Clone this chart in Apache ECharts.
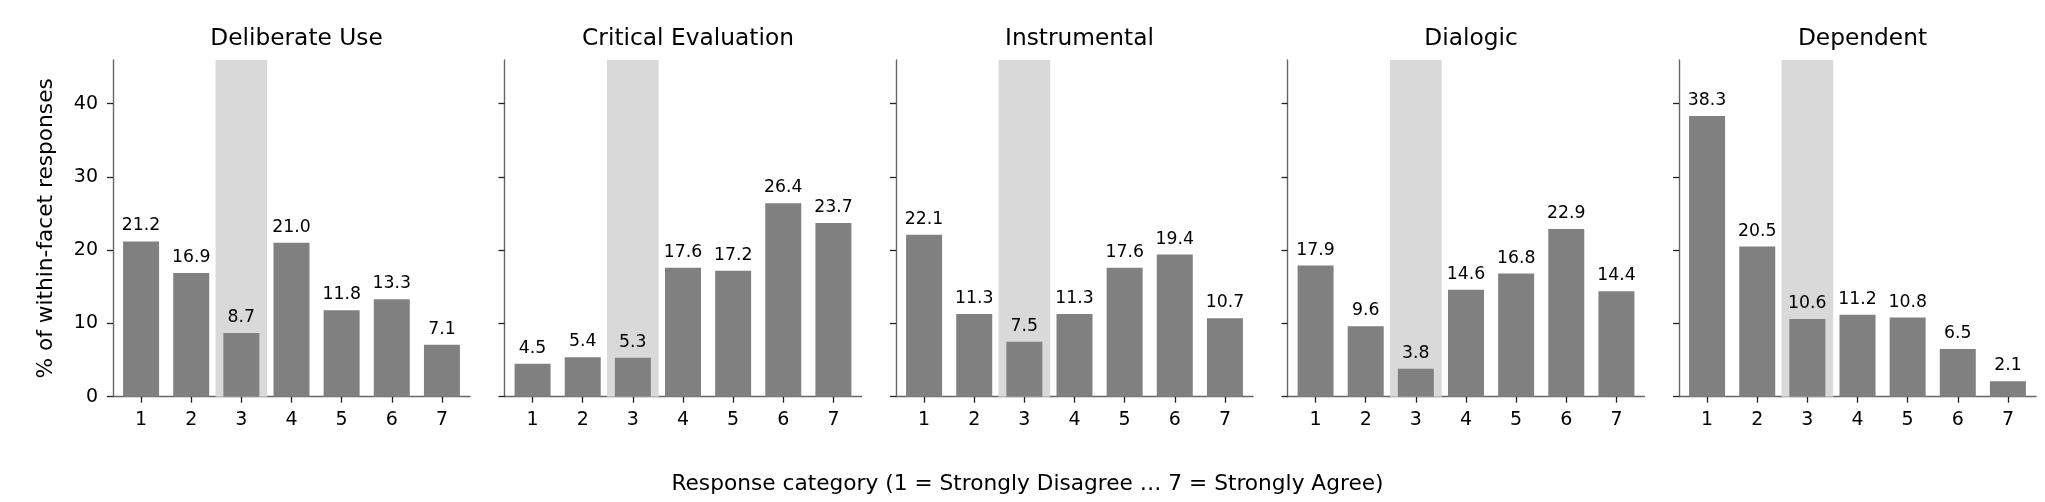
<!DOCTYPE html>
<html>
<head>
<meta charset="utf-8">
<script src="https://cdn.jsdelivr.net/npm/echarts@6/dist/echarts.min.js"></script>
<style>
html,body{margin:0;padding:0;background:#fff;}
#chart{width:2045px;height:502px;}
</style>
</head>
<body>
<div id="chart"></div>
<script>
const facets = ['Deliberate Use', 'Critical Evaluation', 'Instrumental', 'Dialogic', 'Dependent'];
const categories = [1, 2, 3, 4, 5, 6, 7];
const deliberateUse = [21.2, 16.9, 8.7, 21.0, 11.8, 13.3, 7.1];
const criticalEvaluation = [4.5, 5.4, 5.3, 17.6, 17.2, 26.4, 23.7];
const instrumental = [22.1, 11.3, 7.5, 11.3, 17.6, 19.4, 10.7];
const dialogic = [17.9, 9.6, 3.8, 14.6, 16.8, 22.9, 14.4];
const dependent = [38.3, 20.5, 10.6, 11.2, 10.8, 6.5, 2.1];
const yTicks = [0, 10, 20, 30, 40];
const neutralCategory = 3;
const yLabel = '% of within-facet responses';
const xLabel = 'Response category (1 = Strongly Disagree \u2026 7 = Strongly Agree)';

const seriesValues = [deliberateUse, criticalEvaluation, instrumental, dialogic, dependent];

const FONT = 'DejaVu Sans';
const gridLeft0 = 113, gridStep = 391.5, gridW = 357, gridTop = 60, gridBottom = 105.3;
const yMax = Math.max(...seriesValues.flat()) * 1.2;

const grids = [], xAxes = [], yAxes = [], series = [], titles = [];
facets.forEach((name, i) => {
  const left = gridLeft0 + i * gridStep;
  grids.push({left: left, top: gridTop, width: gridW, bottom: gridBottom, containLabel: false});
  titles.push({
    text: name, left: left + gridW / 2, top: 22, textAlign: 'center',
    textStyle: {fontFamily: FONT, fontSize: 23.3, fontWeight: 'normal', color: '#000'}
  });
  xAxes.push({
    type: 'value', gridIndex: i, min: 0.44, max: 7.56,
    axisLine: {show: true, onZero: false, lineStyle: {color: '#666', width: 1.4}},
    axisTick: {show: true, customValues: categories, length: 6, lineStyle: {color: '#222', width: 1.3}},
    axisLabel: {show: true, customValues: categories, margin: 14, fontFamily: FONT, fontSize: 19, color: '#000',
      formatter: v => String(Math.round(v))},
    splitLine: {show: false}
  });
  yAxes.push({
    type: 'value', gridIndex: i, min: 0, max: yMax,
    axisLine: {show: true, lineStyle: {color: '#666', width: 1.4}},
    axisTick: {show: true, customValues: yTicks, length: 6, lineStyle: {color: '#222', width: 1.3}},
    axisLabel: {show: i === 0, customValues: yTicks, margin: 15, fontFamily: FONT, fontSize: 19, color: '#000'},
    splitLine: {show: false},
    name: i === 0 ? yLabel : '',
    nameLocation: 'middle', nameGap: 56,
    nameTextStyle: {fontFamily: FONT, fontSize: 21.7, color: '#000'}
  });
  series.push({
    type: 'line', xAxisIndex: i, yAxisIndex: i, data: [], z: 1, silent: true,
    markArea: {silent: true, itemStyle: {color: '#d9d9d9'},
      data: [[{xAxis: neutralCategory - 0.515}, {xAxis: neutralCategory + 0.515}]]}
  });
  series.push({
    type: 'bar', xAxisIndex: i, yAxisIndex: i, z: 2, barWidth: 36,
    data: categories.map((c, k) => [c, seriesValues[i][k]]),
    itemStyle: {color: '#808080'},
    label: {show: true, position: 'top', distance: 7, fontFamily: FONT, fontSize: 17.3, color: '#000',
      formatter: p => p.value[1].toFixed(1)},
    animation: false
  });
});
titles.push({
  text: xLabel, left: 1022.5, top: 468, textAlign: 'center',
  textStyle: {fontFamily: FONT, fontSize: 21.7, fontWeight: 'normal', color: '#000'}
});

const chart = echarts.init(document.getElementById('chart'), null, {renderer: 'canvas'});
chart.setOption({
  animation: false,
  backgroundColor: '#fff',
  title: titles,
  grid: grids,
  xAxis: xAxes,
  yAxis: yAxes,
  series: series
});
</script>
</body>
</html>
